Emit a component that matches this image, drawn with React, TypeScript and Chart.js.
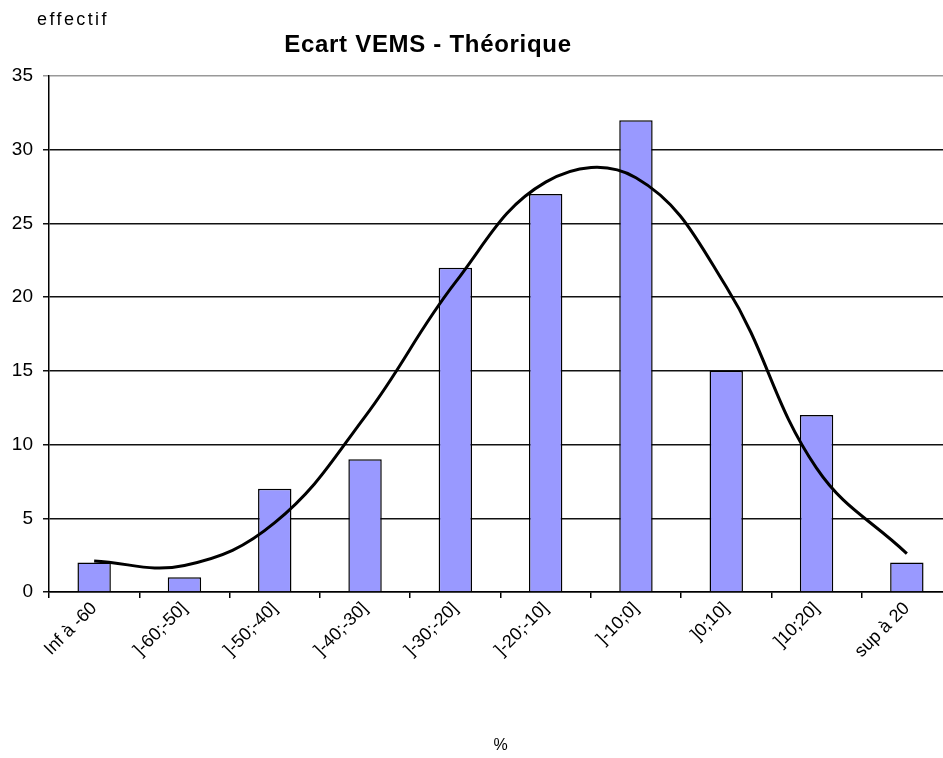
import React, { useEffect, useRef } from "react";
import { Chart, registerables } from "chart.js";

Chart.register(...registerables);

const categories = [
  "Inf à -60",
  "]-60;-50]",
  "]-50;-40]",
  "]-40;-30]",
  "]-30;-20]",
  "]-20;-10]",
  "]-10;0]",
  "]0;10]",
  "]10;20]",
  "sup à 20",
];
const effectifs = [2, 1, 7, 9, 22, 27, 32, 15, 12, 2];
const courbeTheorique = [2.1, 1.8, 4.7, 11.9, 21.0, 27.8, 28.1, 20.7, 8.4, 2.6];
const yTicksMax = 35;
const yTicksStep = 5;
const titleText = "Ecart VEMS - Théorique";
const yAxisText = "effectif";
const xAxisText = "%";

const textPlugin = {
  id: "textPlugin",
  afterDraw(chart: any) {
    const ctx = chart.ctx;
    ctx.save();
    ctx.fillStyle = "#000";
    ctx.textBaseline = "middle";
    ctx.textAlign = "center";
    ctx.font = "bold 24px 'Liberation Sans', Arial, sans-serif";
    try { (ctx as any).letterSpacing = "0.7px"; } catch (e) {}
    ctx.fillText(titleText, 428, 45);
    ctx.textAlign = "left";
    ctx.font = "18px 'Liberation Sans', Arial, sans-serif";
    try { (ctx as any).letterSpacing = "2.4px"; } catch (e) {}
    ctx.fillText(yAxisText, 37, 20);
    try { (ctx as any).letterSpacing = "0px"; } catch (e) {}
    ctx.restore();
  },
};

export default function App() {
  const ref = useRef<HTMLCanvasElement | null>(null);
  useEffect(() => {
    if (!ref.current) return;
    const chart = new Chart(ref.current, {
      type: "bar",
      data: {
        labels: categories,
        datasets: [
          {
            type: "line",
            data: courbeTheorique,
            borderColor: "#000",
            borderWidth: 3,
            pointRadius: 0,
            tension: 0.4,
            fill: false,
            order: 0,
          } as any,
          {
            type: "bar",
            data: effectifs,
            backgroundColor: "#9999FF",
            borderColor: "#000",
            borderWidth: 1.5,
            categoryPercentage: 1,
            barPercentage: 0.37,
            order: 1,
          },
        ],
      },
      options: {
        responsive: false,
        animation: false,
        layout: { padding: { top: 76, right: 8, left: 0, bottom: 0 } },
        plugins: {
          legend: { display: false },
          title: { display: false },
          tooltip: { enabled: false },
        },
        scales: {
          x: {
            offset: true,
            grid: {
              display: true,
              offset: true,
              drawOnChartArea: false,
              drawTicks: true,
              tickLength: 6,
              color: "#000",
              lineWidth: 1.5,
            },
            border: { display: true, color: "#000", width: 1.5 },
            ticks: {
              autoSkip: false,
              minRotation: 45,
              maxRotation: 45,
              padding: 0,
              color: "#000",
              font: { family: "'Liberation Sans', Arial, sans-serif", size: 18 },
            },
            title: {
              display: true,
              text: xAxisText,
              color: "#000",
              font: { family: "'Liberation Sans', Arial, sans-serif", size: 16 },
              padding: { top: 0, bottom: 3 },
            },
            afterFit: (scale: any) => {
              scale.height = 166;
            },
          },
          y: {
            min: 0,
            max: yTicksMax,
            ticks: {
              stepSize: yTicksStep,
              padding: 10,
              color: "#000",
              font: { family: "'Liberation Sans', Arial, sans-serif", size: 19 },
            },
            grid: {
              drawTicks: true,
              tickLength: 6,
              color: (c: any) => (c.tick && c.tick.value === yTicksMax ? "#999" : "#111"),
              lineWidth: 1.5,
            },
            border: { display: true, color: "#000", width: 1.5 },
            afterFit: (scale: any) => {
              scale.width = 49;
            },
          },
        },
      },
      plugins: [textPlugin],
    } as any);
    return () => chart.destroy();
  }, []);
  return (
    <div
      style={{
        position: "fixed",
        left: 0,
        top: 0,
        width: 943,
        height: 758,
        overflow: "hidden",
        background: "#fff",
      }}
    >
      <canvas ref={ref} width={960} height={758} style={{ display: "block" }} />
    </div>
  );
}
